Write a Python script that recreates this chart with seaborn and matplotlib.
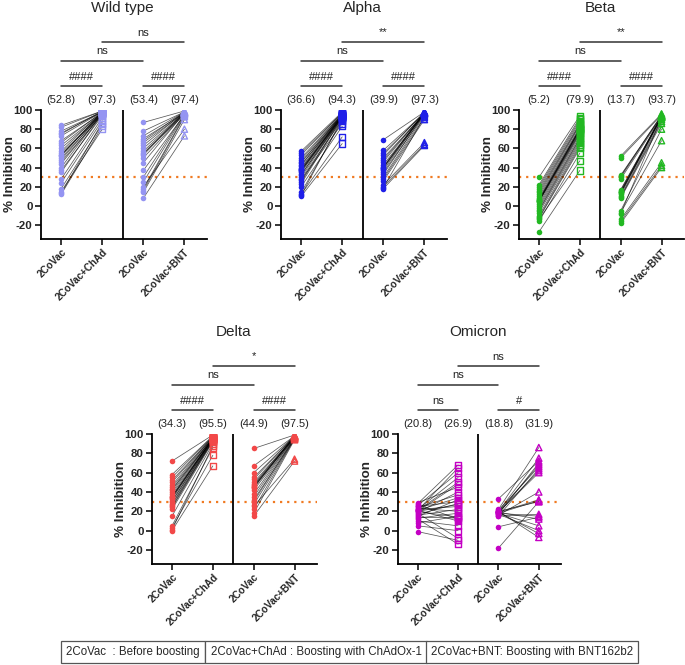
import numpy as np
import pandas as pd
import matplotlib
matplotlib.use('Agg')
import matplotlib.pyplot as plt
import seaborn as sns
from matplotlib.transforms import blended_transform_factory

# ---------------- data ----------------
categories = ['2CoVac', '2CoVac+ChAd', '2CoVac', '2CoVac+BNT']
titles = ['Wild type', 'Alpha', 'Beta', 'Delta', 'Omicron']

wt_pre_chad = [84, 82, 78, 76, 75, 73, 68, 66, 63, 60, 57, 55, 53, 53, 52, 50, 48, 46, 44, 40, 37, 35, 28, 24, 18, 15, 13, 12]
wt_post_chad = [99, 99, 98, 98, 99, 98, 97, 98, 97, 97, 98, 96, 97, 97, 98, 96, 97, 95, 96, 97, 94, 96, 92, 89, 85, 80, 87, 83]
wt_pre_bnt = [87, 78, 73, 70, 68, 66, 63, 60, 57, 55, 54, 53, 50, 45, 37, 30, 25, 20, 18, 16, 14, 8]
wt_post_bnt = [99, 98, 98, 97, 98, 97, 98, 97, 97, 96, 98, 97, 96, 97, 95, 96, 95, 80, 94, 93, 90, 73]
wt_medians = ['(52.8)', '(97.3)', '(53.4)', '(97.4)']
wt_sig = ['####', '####', 'ns', 'ns']

al_pre_chad = [57, 55, 53, 50, 48, 46, 45, 43, 42, 40, 39, 38, 37, 37, 36, 35, 33, 32, 30, 28, 27, 25, 23, 20, 14, 12, 11, 10]
al_post_chad = [98, 97, 97, 96, 96, 95, 95, 94, 96, 95, 94, 93, 94, 95, 94, 93, 92, 94, 93, 90, 86, 93, 92, 83, 89, 72, 91, 65]
al_pre_bnt = [69, 58, 55, 53, 50, 48, 46, 43, 41, 40, 40, 39, 37, 35, 33, 30, 28, 26, 22, 20, 19, 18]
al_post_bnt = [98, 97, 97, 98, 96, 97, 97, 96, 97, 98, 97, 96, 97, 95, 96, 94, 92, 90, 66, 64, 93, 63]
al_medians = ['(36.6)', '(94.3)', '(39.9)', '(97.3)']
al_sig = ['####', '####', 'ns', '**']

be_pre_chad = [30, 22, 20, 18, 16, 14, 12, 10, 8, 7, 6, 6, 5, 5, 5, 4, 2, 0, -2, -4, -5, -7, -10, -12, -13, -14, -16, -27]
be_post_chad = [94, 92, 90, 88, 86, 85, 84, 82, 81, 80, 80, 79, 80, 78, 77, 76, 75, 73, 71, 70, 68, 66, 64, 62, 60, 47, 55, 37]
be_pre_bnt = [52, 50, 32, 31, 30, 28, 17, 16, 15, 14, 14, 13, 12, 10, 9, 8, -5, -7, -8, -14, -16, -18]
be_post_bnt = [96, 95, 94, 95, 94, 93, 93, 94, 92, 93, 94, 93, 92, 90, 88, 86, 80, 68, 92, 45, 42, 40]
be_medians = ['(5.2)', '(79.9)', '(13.7)', '(93.7)']
be_sig = ['####', '####', 'ns', '**']

de_pre_chad = [72, 58, 55, 52, 50, 47, 45, 43, 42, 40, 38, 36, 35, 35, 34, 33, 31, 30, 28, 27, 25, 24, 22, 15, 5, 3, 1, 0]
de_post_chad = [99, 98, 98, 97, 97, 97, 96, 96, 96, 96, 95, 95, 96, 95, 95, 95, 94, 95, 94, 93, 94, 93, 92, 90, 86, 78, 88, 67]
de_pre_bnt = [85, 67, 60, 55, 53, 50, 48, 47, 46, 45, 45, 44, 42, 38, 35, 32, 30, 27, 25, 22, 18, 15]
de_post_bnt = [99, 98, 98, 98, 98, 97, 98, 97, 97, 98, 97, 97, 96, 97, 96, 95, 96, 95, 74, 95, 94, 72]
de_medians = ['(34.3)', '(95.5)', '(44.9)', '(97.5)']
de_sig = ['####', '####', 'ns', '*']

om_pre_chad = [29, 28, 27, 26, 25, 24, 23, 22, 22, 21, 21, 21, 21, 20, 20, 20, 19, 18, 17, 16, 15, 14, 13, 12, 10, 8, 5, -1]
om_post_chad = [45, 68, 12, 60, 30, 37, 20, 55, 25, 65, 10, 34, 50, 14, 48, 27, 40, -8, 28, 22, 32, 13, 18, -14, 5, 15, 0, -10]
om_pre_bnt = [33, 22, 21, 20, 20, 20, 19, 19, 19, 19, 19, 19, 18, 18, 18, 17, 17, 16, 15, 15, 4, -18]
om_post_bnt = [72, 86, 66, 30, 75, -7, 62, 12, 68, 32, -3, 60, 31, 15, 5, 70, 0, 40, 17, 64, 14, 30]
om_medians = ['(20.8)', '(26.9)', '(18.8)', '(31.9)']
om_sig = ['ns', '#', 'ns', 'ns']

legend_texts = ['2CoVac  : Before boosting',
                '2CoVac+ChAd : Boosting with ChAdOx-1',
                '2CoVac+BNT: Boosting with BNT162b2']
threshold = 30

# ---------------- style ----------------
sns.set_theme(style='ticks')
plt.rcParams['font.family'] = ['Liberation Sans', 'DejaVu Sans']

colors = ['#9494f2', '#1f1fe8', '#22b822', '#f24848', '#c400c4']
panels = [
    (wt_pre_chad, wt_post_chad, wt_pre_bnt, wt_post_bnt, wt_medians, wt_sig),
    (al_pre_chad, al_post_chad, al_pre_bnt, al_post_bnt, al_medians, al_sig),
    (be_pre_chad, be_post_chad, be_pre_bnt, be_post_bnt, be_medians, be_sig),
    (de_pre_chad, de_post_chad, de_pre_bnt, de_post_bnt, de_medians, de_sig),
    (om_pre_chad, om_post_chad, om_pre_bnt, om_post_bnt, om_medians, om_sig),
]
W, H = 685, 665
# axes rectangles in pixels: left, top, width, height
rects = [(41, 110, 166, 129), (281, 110, 166, 129), (519, 110, 165, 129),
         (152, 434, 165, 130), (398, 434, 163, 130)]

fig = plt.figure(figsize=(W / 100, H / 100), dpi=100)

for k, (pre_c, post_c, pre_b, post_b, meds, sig) in enumerate(panels):
    l, t, w, h = rects[k]
    ax = fig.add_axes([l / W, 1 - (t + h) / H, w / W, h / H])
    c = colors[k]
    rows = []
    for i, (a, b) in enumerate(zip(pre_c, post_c)):
        rows += [('c%d' % i, 0, a), ('c%d' % i, 1, b)]
    for i, (a, b) in enumerate(zip(pre_b, post_b)):
        rows += [('b%d' % i, 2, a), ('b%d' % i, 3, b)]
    df = pd.DataFrame(rows, columns=['subject', 'x', 'value'])

    sns.lineplot(data=df, x='x', y='value', units='subject', estimator=None,
                 color='black', lw=0.55, alpha=0.65, ax=ax, legend=False)
    ax.axhline(threshold, color='#f07a22', ls=(0, (1, 2.2)), lw=1.6, zorder=1)

    pre = df[df['x'].isin([0, 2])]
    sns.scatterplot(data=pre, x='x', y='value', color=c, marker='o', s=16,
                    linewidth=0, ax=ax, zorder=4, legend=False)
    for xv, mk in [(1, 's'), (3, '^')]:
        sub = df[df['x'] == xv]
        sns.scatterplot(data=sub, x='x', y='value', color=c, marker=mk, s=20,
                        linewidth=1.0, ax=ax, zorder=4, legend=False)
        coll = ax.collections[-1]
        coll.set_facecolor('none')
        coll.set_edgecolor(c)

    ax.set_xlim(-0.49, 3.55)
    ax.set_ylim(-34.5, 100)
    ax.axvline(1.5, color='black', lw=1.3, zorder=2)
    ax.set_xticks(range(4))
    ax.set_xticklabels(categories, rotation=45, ha='right', rotation_mode='anchor',
                       fontsize=7.2, fontweight='bold')
    ax.set_yticks(range(-20, 101, 20))
    ax.set_yticklabels([str(v) for v in range(-20, 101, 20)], fontsize=8.2, fontweight='bold')
    ax.tick_params(axis='both', length=4, width=1.1, color='black', pad=2)
    ax.set_xlabel('')
    ax.set_ylabel('% Inhibition', fontsize=9.6, fontweight='bold')
    ax.yaxis.set_label_coords(-25 / w, 0.5)
    sns.despine(ax=ax)
    for s in ['left', 'bottom']:
        ax.spines[s].set_linewidth(1.3)
        ax.spines[s].set_color('black')

    tr = blended_transform_factory(ax.transData, ax.transAxes)
    f = lambda d: 1 + d / h
    for i, m in enumerate(meds):
        ax.text(i, f(10), m, ha='center', va='center', fontsize=8, transform=tr, color='#222')

    def bracket(x0, x1, d, label):
        ax.plot([x0, x1], [f(d), f(d)], transform=tr, clip_on=False, color='#333', lw=1.1)
        ax.text((x0 + x1) / 2, f(d + 9.5), label, ha='center', va='center', fontsize=8,
                transform=tr, color='#222')

    bracket(0, 1, 24, sig[0])
    bracket(2, 3, 24, sig[1])
    bracket(0, 2, 49, sig[2])
    bracket(1, 3, 68, sig[3])
    ax.text(1.5, f(102), titles[k], ha='center', va='center', fontsize=11, transform=tr)

box_centers = [133, 316, 532]
for txt, cx in zip(legend_texts, box_centers):
    fig.text(cx / W, 1 - 652 / H, txt, ha='center', va='center', fontsize=8.3,
             bbox=dict(boxstyle='square,pad=0.45', fc='white', ec='#555', lw=0.9))

fig.savefig('out.png', dpi=100)
